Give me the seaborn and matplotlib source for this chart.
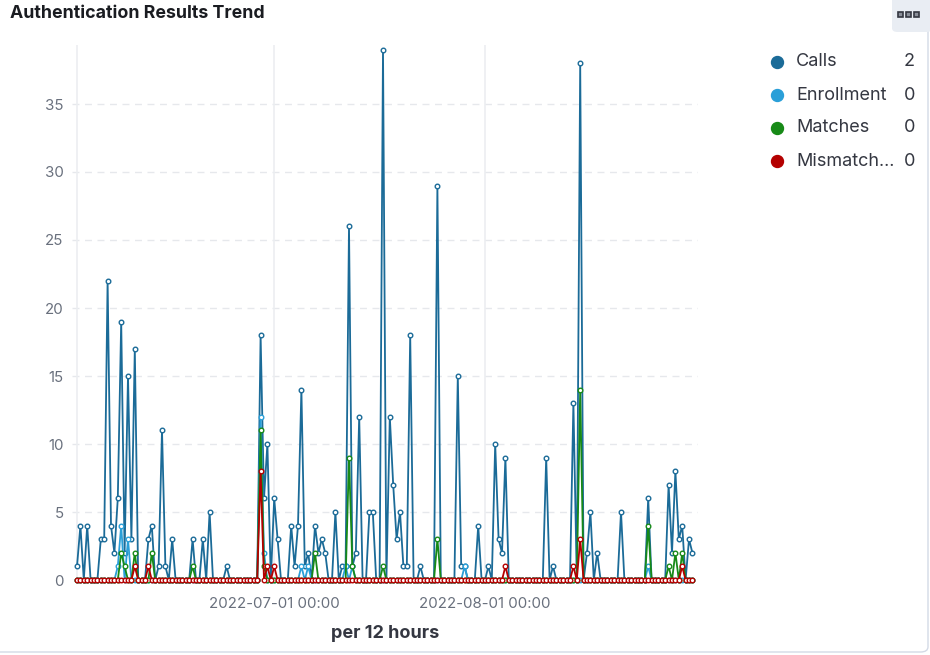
import numpy as np
import pandas as pd
import matplotlib
matplotlib.use('Agg')
import matplotlib.pyplot as plt
import matplotlib.dates as mdates
from matplotlib.lines import Line2D
from matplotlib.patches import FancyBboxPatch, Rectangle
import seaborn as sns

# 12-hour buckets, 2022-06-02 00:00 .. 2022-08-31 12:00
start = '2022-06-02 00:00'
n_points = 182

calls = [1, 4, 0, 4, 0, 0, 0, 3, 3, 22,
         4, 2, 6, 19, 2, 15, 3, 17, 0, 0,
         0, 3, 4, 0, 1, 11, 1, 0, 3, 0,
         0, 0, 0, 0, 3, 0, 0, 3, 0, 5,
         0, 0, 0, 0, 1, 0, 0, 0, 0, 0,
         0, 0, 0, 0, 18, 6, 10, 0, 6, 3,
         0, 0, 0, 4, 1, 4, 14, 1, 2, 0,
         4, 2, 3, 2, 0, 0, 5, 0, 1, 1,
         26, 1, 2, 12, 0, 0, 5, 5, 0, 0,
         39, 0, 12, 7, 3, 5, 1, 1, 18, 0,
         0, 1, 0, 0, 0, 0, 29, 0, 0, 0,
         0, 0, 15, 1, 1, 0, 0, 0, 4, 0,
         0, 1, 0, 10, 3, 2, 9, 0, 0, 0,
         0, 0, 0, 0, 0, 0, 0, 0, 9, 0,
         1, 0, 0, 0, 0, 0, 13, 0, 38, 0,
         2, 5, 0, 2, 0, 0, 0, 0, 0, 0,
         5, 0, 0, 0, 0, 0, 0, 0, 6, 0,
         0, 0, 0, 0, 7, 2, 8, 3, 4, 0,
         3, 2]

enrollment = [0, 0, 0, 0, 0, 0, 0, 0, 0, 0,
              0, 0, 1, 4, 0, 3, 0, 0, 0, 0,
              0, 0, 0, 0, 0, 0, 0, 0, 0, 0,
              0, 0, 0, 0, 0, 0, 0, 0, 0, 0,
              0, 0, 0, 0, 0, 0, 0, 0, 0, 0,
              0, 0, 0, 0, 12, 2, 0, 0, 0, 0,
              0, 0, 0, 0, 0, 0, 1, 0, 1, 0,
              0, 0, 0, 0, 0, 0, 0, 0, 0, 1,
              0, 1, 0, 0, 0, 0, 0, 0, 0, 0,
              0, 0, 0, 0, 0, 0, 0, 0, 0, 0,
              0, 0, 0, 0, 0, 0, 0, 0, 0, 0,
              0, 0, 0, 0, 1, 0, 0, 0, 0, 0,
              0, 0, 0, 0, 0, 0, 0, 0, 0, 0,
              0, 0, 0, 0, 0, 0, 0, 0, 0, 0,
              0, 0, 0, 0, 0, 0, 0, 0, 0, 0,
              0, 0, 0, 0, 0, 0, 0, 0, 0, 0,
              0, 0, 0, 0, 0, 0, 0, 0, 1, 0,
              0, 0, 0, 0, 0, 0, 0, 0, 0, 0,
              0, 0]

matches = [0, 0, 0, 0, 0, 0, 0, 0, 0, 0,
           0, 0, 0, 2, 1, 0, 0, 2, 0, 0,
           0, 0, 2, 0, 0, 0, 0, 0, 0, 0,
           0, 0, 0, 0, 1, 0, 0, 0, 0, 0,
           0, 0, 0, 0, 0, 0, 0, 0, 0, 0,
           0, 0, 0, 0, 11, 1, 0, 0, 0, 0,
           0, 0, 0, 0, 0, 0, 0, 0, 0, 0,
           2, 0, 0, 0, 0, 0, 0, 0, 0, 0,
           9, 1, 0, 0, 0, 0, 0, 0, 0, 0,
           1, 0, 0, 0, 0, 0, 0, 0, 0, 0,
           0, 0, 0, 0, 0, 0, 3, 0, 0, 0,
           0, 0, 0, 0, 0, 0, 0, 0, 0, 0,
           0, 0, 0, 0, 0, 0, 0, 0, 0, 0,
           0, 0, 0, 0, 0, 0, 0, 0, 0, 0,
           0, 0, 0, 0, 0, 0, 0, 0, 14, 0,
           0, 0, 0, 0, 0, 0, 0, 0, 0, 0,
           0, 0, 0, 0, 0, 0, 0, 0, 4, 0,
           0, 0, 0, 0, 1, 0, 2, 0, 2, 0,
           0, 0]

mismatches = [0, 0, 0, 0, 0, 0, 0, 0, 0, 0,
              0, 0, 0, 0, 0, 0, 0, 1, 0, 0,
              0, 1, 0, 0, 0, 0, 0, 0, 0, 0,
              0, 0, 0, 0, 0, 0, 0, 0, 0, 0,
              0, 0, 0, 0, 0, 0, 0, 0, 0, 0,
              0, 0, 0, 0, 8, 0, 1, 0, 1, 0,
              0, 0, 0, 0, 0, 0, 0, 0, 0, 0,
              0, 0, 0, 0, 0, 0, 0, 0, 0, 0,
              0, 0, 0, 0, 0, 0, 0, 0, 0, 0,
              0, 0, 0, 0, 0, 0, 0, 0, 0, 0,
              0, 0, 0, 0, 0, 0, 0, 0, 0, 0,
              0, 0, 0, 0, 0, 0, 0, 0, 0, 0,
              0, 0, 0, 0, 0, 0, 1, 0, 0, 0,
              0, 0, 0, 0, 0, 0, 0, 0, 0, 0,
              0, 0, 0, 0, 0, 0, 1, 0, 3, 0,
              0, 0, 0, 0, 0, 0, 0, 0, 0, 0,
              0, 0, 0, 0, 0, 0, 0, 0, 0, 0,
              0, 0, 0, 0, 0, 0, 0, 0, 1, 0,
              0, 0]

series_names = ['Calls', 'Enrollment', 'Matches', 'Mismatch...']
series_colors = ['#1b6b98', '#2a9fd8', '#178a17', '#b40000']
series_values = [calls, enrollment, matches, mismatches]
y_ticks = [0, 5, 10, 15, 20, 25, 30, 35]
x_ticks = ['2022-07-01 00:00', '2022-08-01 00:00']

sns.set_style('white')
plt.rcParams['font.family'] = ['Inter', 'DejaVu Sans']

W, H = 930, 655
fig = plt.figure(figsize=(W / 100, H / 100), dpi=100)
fig.patch.set_facecolor('white')

# plot area in pixels: x 72..698, y 45..580
ax = fig.add_axes([72 / W, 1 - 580 / H, (698 - 72) / W, (580 - 45) / H])

dates = pd.date_range(start, periods=n_points, freq='12h')

for k, (name, col, vals) in enumerate(zip(series_names, series_colors, series_values)):
    sns.lineplot(x=dates, y=vals, ax=ax, color=col, lw=1.3,
                 marker='o', ms=3.3, mfc='white', mec=col, mew=1.0,
                 clip_on=False, zorder=3 + k)

# axis limits
px_per_day = 6.8
ax.set_xlim(dates[0] - pd.Timedelta(days=5 / px_per_day),
            dates[0] + pd.Timedelta(days=(698 - 77) / px_per_day))
ax.set_ylim(0, 535 / 13.6)

ax.set_yticks(y_ticks)
ax.set_xticks(pd.to_datetime(x_ticks))
ax.xaxis.set_major_formatter(mdates.DateFormatter('%Y-%m-%d %H:%M'))
ax.tick_params(axis='both', length=0, labelsize=10.8, labelcolor='#69707d')
ax.tick_params(axis='y', pad=6)
ax.tick_params(axis='x', pad=12)

for s in ax.spines.values():
    s.set_visible(False)

# grid
for yv in y_ticks:
    ax.axhline(yv, color='#e6e8ec', lw=1, ls=(0, (5, 4)), zorder=0)
for xv in pd.to_datetime(x_ticks):
    ax.axvline(xv, color='#eceef1', lw=1.2, zorder=0)
ax.axvline(dates[0], color='#eceef1', lw=1.2, zorder=0)
ax.set_xlabel('')
ax.set_ylabel('')

# title and axis title
fig.text(10 / W, 1 - 14 / H, 'Authentication Results Trend', fontsize=12.8,
         fontweight='bold', color='#1a1c21', ha='left', va='center')
fig.text(385 / W, 1 - 634 / H, 'per 12 hours', fontsize=13,
         fontweight='bold', color='#343741', ha='center', va='center')

# legend with last values
for k, (name, col, vals) in enumerate(zip(series_names, series_colors, series_values)):
    yy = 1 - (62 + 33 * k) / H
    fig.add_artist(Line2D([777 / W], [yy], marker='o', ms=8.6, color=col,
                          lw=0, transform=fig.transFigure))
    fig.text(796 / W, yy, name, fontsize=13, color='#343741',
             ha='left', va='center')
    fig.text(915 / W, yy, str(vals[-1]), fontsize=13, color='#343741',
             ha='right', va='center')

# panel border and options button
fig.add_artist(FancyBboxPatch((-20 / W, 1 - 652 / H), (948 / W), (672 / H),
                              boxstyle='round,pad=0,rounding_size=0.008',
                              transform=fig.transFigure, fc='none',
                              ec='#d3dae6', lw=1))
fig.add_artist(FancyBboxPatch((892 / W, 1 - 32 / H), 40 / W, 42 / H,
                              boxstyle='round,pad=0,rounding_size=0.006',
                              transform=fig.transFigure, fc='#e9edf3',
                              ec='none'))
for bx in [898, 906, 914]:
    fig.add_artist(Rectangle((bx / W, 1 - 17 / H), 5 / W, 5 / H,
                             transform=fig.transFigure, fc='#8a8f99',
                             ec='#343741', lw=1.2))

fig.savefig('out.png', dpi=100)
